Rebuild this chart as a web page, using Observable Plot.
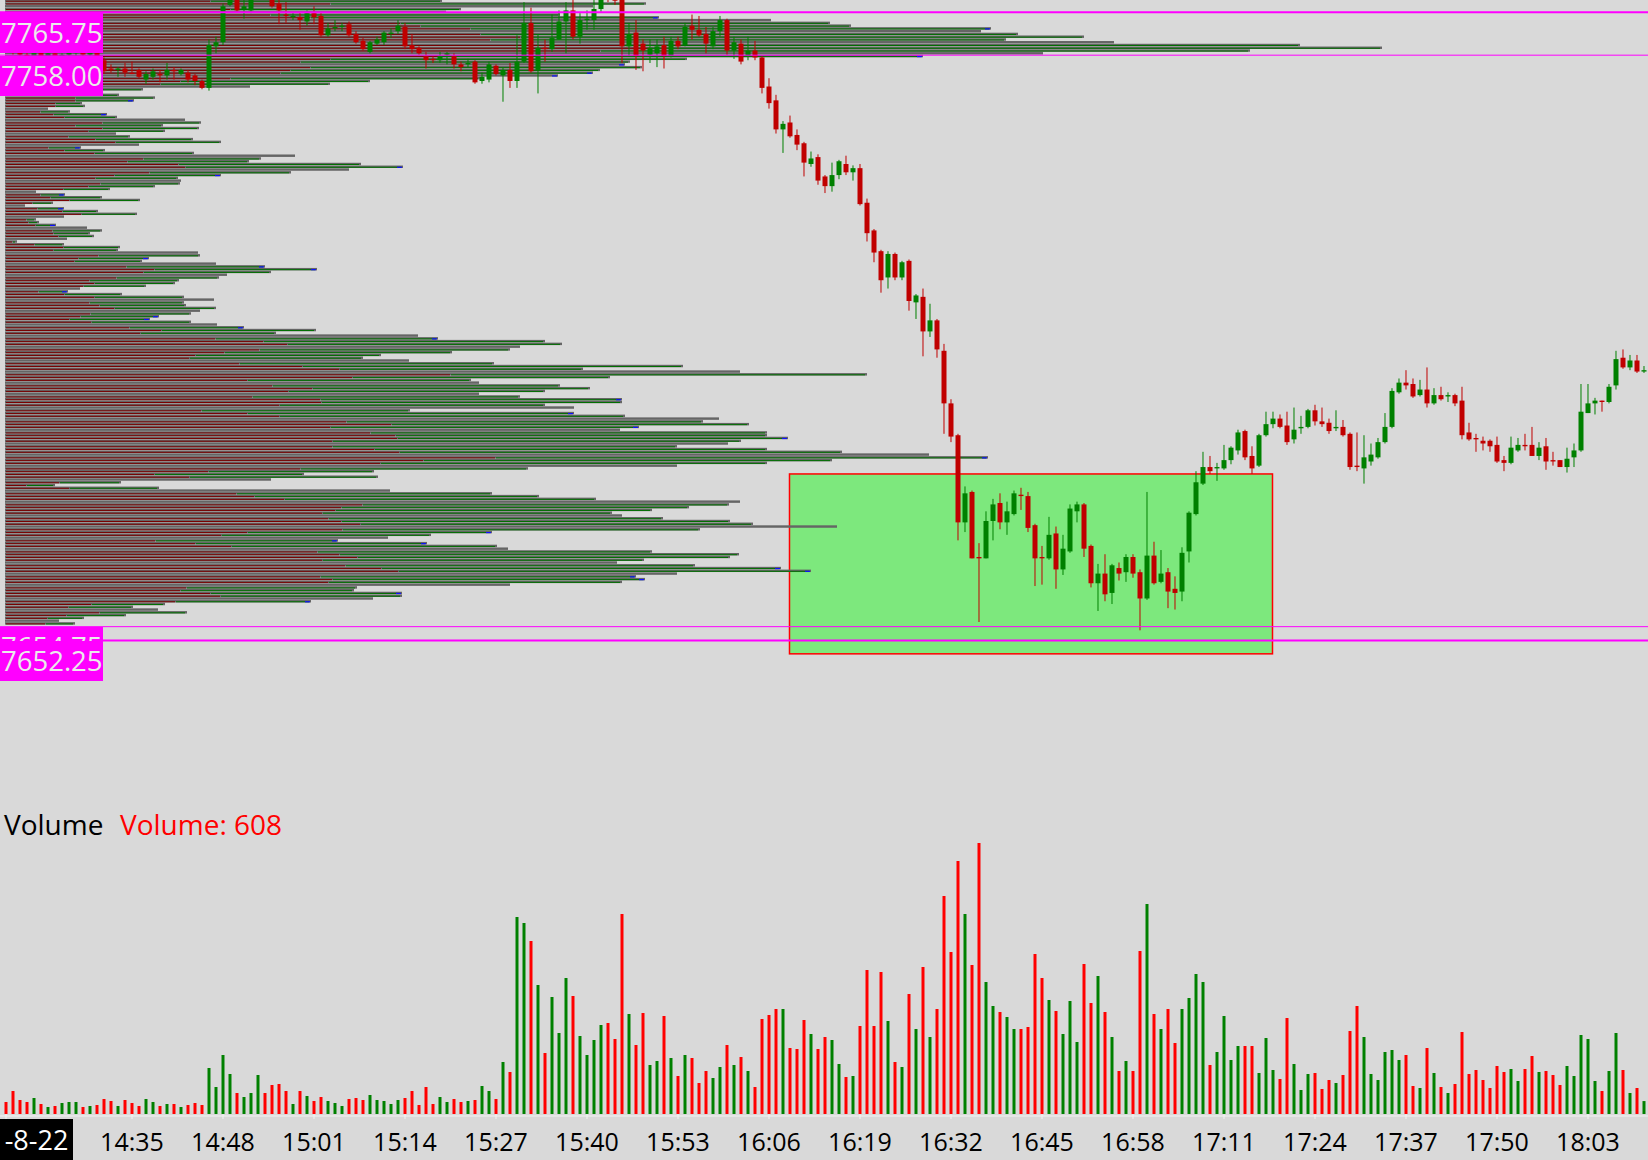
<!DOCTYPE html>
<html><head><meta charset="utf-8">
<script src="https://cdn.jsdelivr.net/npm/d3@7"></script>
<script src="https://cdn.jsdelivr.net/npm/@observablehq/plot@0.6"></script>
<style>
html,body{margin:0;padding:0;background:#d9d9d9;overflow:hidden;}
#chart{position:relative;width:1648px;height:1160px;overflow:hidden;background:#d9d9d9;font-family:"Open Sans",sans-serif;}
.layer{position:absolute;left:0;overflow:hidden;}
.layer svg{display:block;}
.lvl{position:absolute;left:0;width:103px;height:40px;background:#ff00ff;color:#ebebeb;font-size:27.5px;line-height:40px;white-space:nowrap;overflow:hidden;padding-left:1px;box-sizing:border-box;}
.txt{position:absolute;white-space:nowrap;font-family:"Open Sans",sans-serif;line-height:normal;}
</style></head><body><div id="chart"></div><script>
// ---------------- data ----------------
const startMinute = 14 * 60 + 17;           // time of the first one-minute bar (14:17)
const dateLabel = "-8-22";
const volumeReadout = 608;

const openPrices = [
7760,7759.25,7758.5,7758,7757.5,7758.5,7757.75,7758.25,7757.5,7758,
7758.25,7758.75,7758,7758.5,7757,7755.5,7755.25,7755.5,7754.75,7755.25,
7753.5,7754,7754.5,7754.25,7755.25,7754.5,7754.75,7754.25,7753.25,7752,
7759.5,7760.25,7767,7769,7766.25,7766,7768.5,7769.5,7769,7767.25,
7765.25,7764.75,7764.75,7764,7765.5,7765,7761.5,7762.75,7763,7763.5,
7761.75,7760.5,7758.5,7760,7760.25,7761.75,7762.25,7763,7759.75,7759.25,
7757.75,7757.25,7757,7758,7757.75,7756.25,7756.25,7756.75,7753.25,7753.5,
7756,7754.25,7755.25,7753.25,7756.75,7763.75,7755.25,7759.25,7759,7760.75,
7764,7766,7761.25,7764.25,7764.25,7766.25,7768.75,7768.25,7768,7759.5,
7762,7760,7758,7758.25,7759.75,7757.75,7760.5,7759.75,7763.25,7762.5,
7761.75,7759.5,7762.25,7764.25,7758.75,7760,7757.75,7758.75,7757.5,7752.25,
7749.75,7744.5,7745.75,7743.5,7742,7738.25,7739.5,7736,7734.25,7736.25,
7738.25,7736.75,7737.5,7731.25,7726.25,7722.5,7717.75,7722,7717.75,7720.75,
7713.25,7714.25,7708,7710,7704.5,7695,7689.25,7673.5,7679,7667.25,
7667,7673.75,7677,7673.5,7675,7678.5,7678.25,7673,7667.25,7667,
7671.5,7665,7668.25,7675.5,7676.75,7669.25,7662.5,7664.25,7660.75,7665.25,
7664.5,7667.25,7664.5,7659.75,7667.5,7662.75,7664.5,7661.5,7661,7668.25,
7675,7680.5,7683.5,7683.25,7683.25,7684.75,7686.5,7690,7685.5,7683.75,
7689.25,7691.25,7692.25,7691,7688.5,7690.5,7690.75,7693.75,7691.75,7691.5,
7690.5,7690.75,7689.5,7683.75,7683.25,7684.5,7685.25,7688,7690.75,7697,
7698.75,7698.5,7696.5,7697.5,7695,7696.5,7696.25,7696.5,7695.5,7689.75,
7688.75,7688.25,7688.25,7687.5,7684.75,7684.25,7686.5,7687.5,7687.5,7685.5,
7687.25,7684.75,7684.75,7683.5,7685.25,7686.5,7693.25,7695,7695.5,7695.25,
7698.25,7703.25,7701.5,7702.75,7700.75];

const highPrices = [
7760.75,7759.75,7759,7758.5,7758.75,7758.75,7758.5,7758.5,7758.25,7758.75,
7759,7759,7758.75,7758.75,7757.5,7756.25,7755.75,7756.5,7756.75,7755.5,
7755,7755.5,7755.25,7756.5,7755.75,7755.5,7755.25,7754.5,7753.5,7760.75,
7761.25,7767.25,7770,7770,7768,7769.5,7770.5,7771,7769.5,7768,
7767.5,7765.5,7765.5,7766,7766.75,7765.5,7763.75,7764.25,7763.75,7764,
7762.25,7761,7760.5,7761.25,7762.25,7762.75,7764.25,7763.75,7761.75,7759.5,
7758.5,7757.75,7758.5,7758.5,7758.25,7756.75,7757.25,7757,7754.75,7756.75,
7756.25,7755.75,7756.5,7761.5,7767.5,7766.5,7761.75,7760.75,7765.25,7766,
7767.5,7768,7765.5,7766,7768,7769.5,7770,7769.5,7770,7763.75,
7764.25,7760.75,7760.75,7760.75,7761.25,7761.25,7761.25,7763.75,7765.25,7765,
7763,7763,7765,7764.5,7761.25,7760.75,7761.25,7760.5,7757.75,7753.75,
7750.75,7746,7747,7744.5,7742.25,7740.5,7740,7736.25,7738.5,7739,
7739.75,7738,7738.25,7732,7726.5,7722.75,7722.5,7722.25,7720.75,7721,
7714.75,7715.75,7713,7710.25,7705.75,7695.75,7689.5,7680,7679.25,7669.75,
7675.5,7677.75,7678.75,7677.25,7679.25,7679.75,7679,7673.25,7669.25,7674.5,
7672.75,7671.25,7676.75,7677.25,7677,7669.5,7666,7667.75,7666,7666.25,
7667.75,7667.75,7665,7679,7670,7668.5,7665.25,7663.75,7669,7675.5,
7682.75,7686.25,7685.5,7684.25,7687.5,7687.25,7690.25,7690.25,7687.25,7689.5,
7693.5,7693.5,7693,7693.5,7694.25,7692.75,7694,7694.75,7694.25,7692.25,
7693.75,7692,7689.75,7689.75,7689.25,7687.75,7688.75,7693.25,7697.75,7699.5,
7701,7699.5,7699.25,7701.5,7697.75,7698,7697,7696.75,7698,7691.5,
7689.5,7689,7688.5,7689,7685.5,7689,7688.75,7689.5,7690.75,7688,
7688.75,7686.25,7684.75,7687,7687.75,7698.5,7698.5,7696,7695.5,7698.5,
7704.5,7704.75,7703.75,7703.75,7701.75];

const lowPrices = [
7758.75,7758,7757.5,7757,7757.25,7757.5,7757.5,7757.25,7757,7757.75,
7757.75,7757.75,7757.5,7757,7754.5,7754.75,7754,7754,7754.5,7753.75,
7752.75,7753.5,7753,7753.5,7753.5,7754.25,7753,7752.5,7751.75,7751.5,
7758.25,7759.75,7766.75,7765.75,7764.5,7765.5,7768,7768.25,7766.5,7763.5,
7763.75,7764.25,7762.5,7763.25,7763.5,7761.25,7761.25,7762.25,7762.25,7761.25,
7760,7758.75,7758.25,7759.75,7759.75,7761,7761.75,7759,7758.25,7758,
7755.5,7756.5,7756.5,7756.25,7755.5,7755,7755.75,7752.75,7752.75,7753,
7754.25,7749.5,7752,7752,7756.5,7754.75,7751,7756.75,7758.5,7760.75,
7758.25,7760.75,7760,7762.5,7762.5,7765.75,7767.5,7767,7756.5,7757.75,
7755.25,7755,7756.5,7755.75,7755.5,7757.5,7759,7759.5,7760.75,7761.25,
7758.25,7759,7761.25,7758,7757.25,7756.25,7757,7757,7751,7748.25,
7743.75,7740.25,7743,7740.75,7736,7737.75,7734.5,7733,7733.25,7735.5,
7736.25,7735.25,7730.75,7724.25,7720.5,7715,7715.75,7717.25,7717.25,7711.75,
7710.25,7703.5,7707,7703.25,7689.5,7688,7670.25,7671.75,7667,7655.5,
7667,7670.25,7672.25,7671.25,7674.75,7675.75,7671.75,7662,7662.25,7666.75,
7661.5,7664,7668,7673.5,7667.25,7661.75,7657.5,7659.25,7658.75,7663,
7662.75,7663.5,7654,7659.5,7662.25,7662.5,7658,7657.75,7659.25,7666.25,
7674.75,7680.25,7682.25,7681,7683,7684,7685.75,7684.75,7682.25,7683.5,
7689,7690.5,7690.5,7687.5,7687.75,7689.5,7690.5,7691,7690.75,7689.5,
7690,7689,7683,7682.75,7680.5,7683.75,7685,7687.75,7690.5,7696.75,
7697.5,7696,7696.25,7694.25,7694.75,7695.5,7695.25,7694.5,7688.5,7688.25,
7686.25,7686.5,7686.25,7684.25,7682.75,7684,7686.25,7686.5,7685.5,7684.75,
7683,7683.75,7683.5,7682.5,7683.5,7686.25,7693.25,7693,7693.5,7695,
7697.5,7701.25,7701,7700.5,7700.5];

const closePrices = [
7759.25,7758.5,7758,7757.5,7758.5,7757.75,7758.25,7757.5,7758,7758.5,
7758.75,7758,7758.5,7757.25,7755,7755.25,7755.5,7754.75,7754.5,7754,
7754.5,7755,7754.25,7755.25,7755,7755.25,7753.5,7753.25,7752,7759.75,
7760.25,7766.75,7769,7766,7766.75,7768.5,7769.5,7769,7766.75,7766,
7765,7765,7764.25,7765.5,7764.75,7761.5,7762.75,7763,7763.25,7761.5,
7760.25,7759,7760.25,7760.75,7762,7762,7763.25,7759.5,7759,7758.25,
7757,7757,7757.75,7758.25,7756.25,7755.75,7756.5,7753,7754,7756.25,
7754.5,7755.25,7753.25,7756.75,7763.75,7755,7759.25,7759,7761,7764,
7766,7761.25,7764.25,7764.5,7766.25,7768.5,7768,7767.75,7759.5,7761.75,
7757.75,7758.75,7759.25,7759.5,7757.75,7760.5,7759.5,7763,7762.5,7761.5,
7760,7762.25,7764.25,7758.75,7760.25,7756.75,7758.75,7757.5,7752,7749.25,
7744.5,7745.5,7743.25,7741.75,7738.5,7739.25,7735.25,7734.25,7736.25,7738.75,
7736.75,7737.5,7731,7725.75,7722.25,7717.25,7722,7717.75,7720.5,7713.5,
7714.5,7708,7710,7704.75,7695,7689,7673.5,7678.75,7667,7667,
7673.75,7676.75,7673.5,7675.5,7678.75,7678.25,7672.5,7667,7667,7671.25,
7665,7668.75,7676,7676.75,7668.75,7662.5,7664.25,7660.5,7665.75,7664.25,
7667.25,7664.25,7659.75,7667.5,7662.5,7664.25,7661,7660.75,7668,7675.25,
7680.75,7683.5,7682.75,7683.5,7684.75,7687,7689.75,7685.25,7683.25,7689.25,
7691.25,7692.25,7690.75,7688,7690.25,7690.75,7693.75,7691.75,7691.25,7690,
7690.75,7689.25,7683.5,7683.5,7685.25,7685.75,7688,7690.75,7697.25,7698.75,
7698.25,7696.25,7697.5,7695,7696.5,7695.75,7696.5,7695,7689.25,7688.5,
7688.5,7687.75,7687.25,7684.5,7684.25,7687,7687.5,7687.25,7685.5,7687,
7684.5,7684.5,7683.5,7685,7686.5,7693.5,7695,7695.5,7695.25,7698,
7703,7701.5,7702.75,7700.75,7701];

const volumes = [
564,1081,658,564,752,470,329,376,517,564,
564,329,376,423,705,611,376,658,517,376,
705,564,376,470,470,329,423,517,423,2162,
1269,2773,1880,987,799,987,1833,987,1363,1410,
1081,470,1081,846,611,799,611,517,376,705,
752,658,893,658,611,470,658,752,1081,423,
1269,470,799,564,705,564,611,658,1316,1081,
705,2444,1974,9259,8977,8131,6063,2867,5499,3807,
6392,5546,3666,2773,3478,4183,4277,3525,9400,4700,
3243,4747,2303,2491,4606,2632,1786,2773,2632,1457,
2021,1692,2209,3243,2303,2679,2021,1269,4465,4653,
4935,4935,3102,3055,4418,3760,3055,3619,3478,2350,
1739,1786,4136,6768,4136,6674,4371,2444,2209,5640,
3995,6909,3619,4935,10246,7614,11891,9400,7003,12737,
6204,5076,4794,4559,3995,3995,4089,7520,6392,5358,
4841,3760,5311,3384,7050,5217,6486,4794,3619,2021,
2491,2021,7661,9870,4700,3995,4935,3337,4935,5452,
6580,6204,2303,2914,4606,2538,3196,3196,3196,1927,
3572,2068,1645,4512,2350,1128,1880,1927,1175,1598,
1457,1833,3901,5076,3619,1880,1598,2914,3008,2538,
2773,1316,1222,3102,1927,1269,987,1410,3854,1880,
2068,1598,1222,2256,1974,2115,1551,2115,2726,1974,
2021,1833,1363,2256,1786,3713,3525,1551,1081,2021,
3807,2068,987,1222,608];

// volume profile: one row per half point, from 7767.75 down to 7655.25
const profileTopPrice = 7767.75;
const profileStep = 0.5;
const profileVolume = [
437,641,588,456,441,555,654,766,825,846,
986,976,1013,1079,1001,1109,1295,1377,1245,1038,
918,682,625,620,637,595,588,553,475,365,
325,245,138,85,114,150,129,77,80,43,
65,102,112,180,196,158,194,160,111,125,
188,216,134,76,100,189,290,256,244,356,
398,344,286,216,173,176,175,150,105,31,
60,97,135,48,20,59,93,132,59,31,
34,51,82,97,85,89,62,12,59,115,
113,193,195,144,137,211,260,312,266,222,
214,174,170,141,75,63,117,179,209,179,
181,211,195,186,154,145,186,212,239,311,
271,413,433,540,557,515,505,447,376,358,
404,489,678,578,735,862,605,466,474,555,
585,540,474,515,617,617,540,569,405,569,
620,714,698,744,634,615,762,762,783,736,
723,672,762,837,924,983,827,762,672,523,
369,299,373,266,116,50,154,385,487,534,
591,735,724,684,647,607,617,658,725,748,
832,695,487,426,383,333,422,492,503,647,
734,725,639,612,690,776,806,672,631,640,
617,505,352,349,397,397,368,306,160,128,
153,182,121,79,54,70];
// sell side of each row (null: row shown without the sell/buy split)
const profileSell = [
205,325,null,225,215,265,305,null,395,415,
465,null,475,515,485,null,615,645,595,null,
435,325,295,null,305,285,275,null,225,175,
155,null,65,40,63,70,70,50,50,null,
35,48,59,null,97,70,97,83,null,63,
90,110,null,43,59,89,null,138,122,173,
180,null,144,109,90,null,95,83,58,null,
35,45,64,27,null,32,57,76,null,21,
23,30,null,47,48,53,null,7,29,58,
48,null,93,73,69,null,121,149,138,null,
111,84,89,78,null,33,59,89,null,84,
94,109,null,85,75,64,86,null,124,156,
135,null,210,258,282,null,254,219,190,184,
null,234,297,334,null,445,347,242,null,267,
307,283,null,247,315,316,274,null,196,242,
274,null,341,386,325,null,365,390,392,327,
null,327,369,394,null,490,418,375,null,295,
203,149,184,null,54,21,64,null,231,249,
279,null,357,336,330,317,null,323,336,355,
null,337,242,216,null,150,190,226,null,312,
334,352,317,null,340,376,393,null,315,327,
323,null,181,175,205,215,null,170,86,63,
null,94,61,42,null,40];
const blueTipPrices = [7764.75,7762.75,7757.75,7756.25,7754.75,7754.25,7749.75,7747.25,7741.25,7737.75,
7736.25,7732.75,7730.25,7727.25,7721.25,7719.75,7719.25,7715.25,7710.75,7710.25,7708.75,7706.75,
7695.75,7693.25,7690.75,7688.75,7685.25,7671.75,7670.25,7669.75,7665.25,7664.75,7663.75,7663.25,7660.75,7659.25];

// horizontal price levels and their tags
const levelPrices = [7765.75, 7758.00, 7654.75, 7652.25];
const levelLabels = ["7765.75", "7758.00", "7654.75", "7652.25"];
const majorLevels = [7765.75, 7652.25];

// highlighted zone (bar index range, price range)
const zoneStart = [112];
const zoneEnd = [181];
const zoneTop = [7682.25];
const zoneBottom = [7649.75];

// ---------------- chart ----------------
const W = 1648;
const chart = document.getElementById("chart");
const xDomain = [-0.7857, 234.643];
const yDomain = [7641.41, 7767.88];
const priceH = 700;

const candles = openPrices.map((o, i) => ({i, o, h: highPrices[i], l: lowPrices[i], c: closePrices[i], up: closePrices[i] > o}));
const bars = volumes.map((v, i) => ({i, v, up: candles[i].up}));
const rows = profileVolume.map((v, j) => ({price: profileTopPrice - profileStep * j, total: v, sell: profileSell[j]}));
const split = rows.filter(d => d.sell != null);
const blue = rows.filter(d => blueTipPrices.includes(d.price));
const zone = zoneStart.map((s, k) => ({s, e: zoneEnd[k], t: zoneTop[k], b: zoneBottom[k]}));

function addLayer(svg, top) {
  const d = document.createElement("div");
  d.className = "layer";
  d.style.top = top + "px";
  d.appendChild(svg);
  chart.appendChild(d);
  return d;
}
const baseStyle = {background: "transparent", overflow: "hidden"};

// layer 1: zone rectangle
addLayer(Plot.plot({
  width: W, height: priceH, margin: 0,
  x: {domain: xDomain, axis: null}, y: {domain: yDomain, axis: null},
  style: baseStyle,
  marks: [
    Plot.rect(zone, {x1: "s", x2: "e", y1: "b", y2: "t", fill: "#7de87d", stroke: "#ff0000", strokeWidth: 1.5})
  ]
}), 0);

// layer 2: volume profile
addLayer(Plot.plot({
  width: W, height: priceH, margin: 0,
  x: {domain: [-5, 1643], axis: null}, y: {domain: yDomain, axis: null},
  style: baseStyle,
  marks: [
    Plot.rectX(rows, {x1: 0, x2: "total", y1: d => d.price - 0.22, y2: d => d.price + 0.22, fill: "#656565"}),
    Plot.ruleY(split, {y: "price", x1: 1, x2: "sell", stroke: "#7a0000", strokeWidth: 1}),
    Plot.ruleY(split, {y: "price", x1: d => d.sell + 1, x2: d => d.total - 2, stroke: "#007000", strokeWidth: 1}),
    Plot.ruleY(blue, {y: "price", x1: d => d.total - 6, x2: d => d.total - 1, stroke: "#1010ff", strokeWidth: 1.2})
  ]
}), 0);

// layer 3: candles and levels
const candlePlot = Plot.plot({
  width: W, height: priceH, margin: 0,
  x: {domain: xDomain, axis: null}, y: {domain: yDomain, axis: null},
  style: baseStyle,
  marks: [
    Plot.ruleX(candles, {x: "i", y1: "l", y2: "h", stroke: d => d.up ? "#008000" : "#c00000", strokeWidth: 1}),
    Plot.ruleX(candles, {x: "i", y1: "o", y2: "c", stroke: d => d.up ? "#008000" : "#c00000", strokeWidth: 5}),
    Plot.ruleY(levelPrices.filter(p => !majorLevels.includes(p)), {y: d => d, stroke: "#ff00ff", strokeWidth: 1}),
    Plot.ruleY(majorLevels, {y: d => d, stroke: "#ff00ff", strokeWidth: 2})
  ]
});
addLayer(candlePlot, 0);

// level tags
const sy = candlePlot.scale("y");
const yPix = sy.apply ? (p => sy.apply(p)) : d3.scaleLinear(sy.domain, sy.range);
levelPrices.forEach((p, k) => {
  const div = document.createElement("div");
  div.className = "lvl";
  div.style.top = (yPix(p) + 1) + "px";
  div.textContent = levelLabels[k];
  chart.appendChild(div);
});

// layer 4: volume panel
const tickIdx = [0, ...d3.range(18, 240, 13)];
const fmt = i => { if (i === 0) return ""; const m = startMinute + i; return Math.floor(m / 60) + ":" + String(m % 60).padStart(2, "0"); };
addLayer(Plot.plot({
  width: W, height: 400, marginTop: 0, marginBottom: 46, marginLeft: 0, marginRight: 0,
  x: {domain: xDomain, label: null}, y: {domain: [0, 16638], axis: null},
  style: {background: "transparent", overflow: "hidden", fontFamily: "Open Sans", fontSize: "25px", color: "black"},
  marks: [
    Plot.ruleX(bars, {x: "i", y1: 0, y2: "v", stroke: d => d.up ? "#008000" : "#ff0000", strokeWidth: 3}),
    Plot.ruleY([0], {stroke: "#f4f4f4", dy: 1.5}),
    Plot.axisX(tickIdx, {tickSize: 5, tickPadding: 14, tickFormat: fmt, label: null, stroke: "#f4f4f4", fill: "black", fontSize: 25})
  ]
}), 760);

// panel texts
function addText(str, left, baseline, size, color) {
  const d = document.createElement("div");
  d.className = "txt";
  d.style.left = left + "px";
  d.style.top = (baseline - 1.069 * size) + "px";
  d.style.fontSize = size + "px";
  d.style.color = color;
  d.textContent = str;
  chart.appendChild(d);
}
addText("Volume", 4, 835, 28, "#000000");
addText("Volume: " + volumeReadout, 120, 835, 28, "#ff0000");

const dateBox = document.createElement("div");
dateBox.style.cssText = "position:absolute;left:0;top:1119px;width:73px;height:41px;background:#000;color:#fff;font-size:27px;line-height:41px;text-align:center;font-family:'Open Sans',sans-serif;white-space:nowrap;overflow:hidden;";
dateBox.textContent = dateLabel;
chart.appendChild(dateBox);
</script></body></html>
